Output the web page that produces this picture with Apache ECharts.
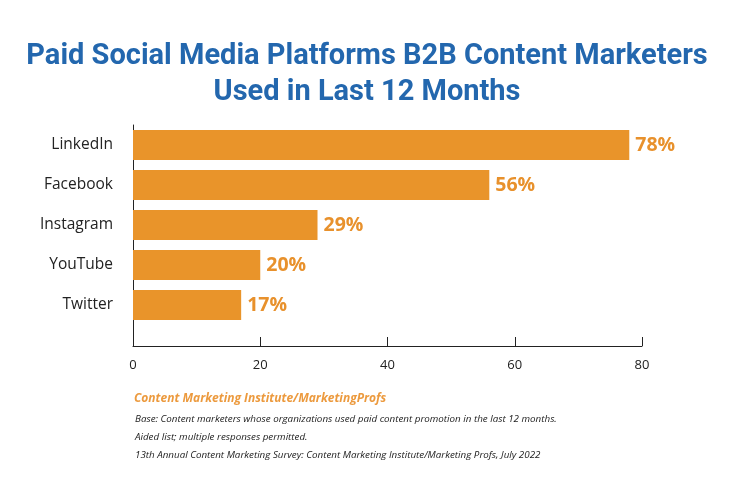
<!DOCTYPE html>
<html><head><meta charset="utf-8">
<script src="https://cdn.jsdelivr.net/npm/echarts@6/dist/echarts.min.js"></script>
<style>html,body{margin:0;padding:0;background:#fff}#c{width:734px;height:477px}</style>
</head><body><div id="c"></div>
<script>
var categories = ['LinkedIn', 'Facebook', 'Instagram', 'YouTube', 'Twitter'];
var values = [78, 56, 29, 20, 17];
var xTicks = [0, 20, 40, 60, 80];
var titleLines = ['Paid Social Media Platforms B2B Content Marketers', 'Used in Last 12 Months'];
var sourceLine = 'Content Marketing Institute/MarketingProfs';
var notes = [
  'Base: Content marketers whose organizations used paid content promotion in the last 12 months.',
  'Aided list; multiple responses permitted.',
  '13th Annual Content Marketing Survey: Content Marketing Institute/Marketing Profs, July 2022'
];

var chart = echarts.init(document.getElementById('c'));
var L = 133, R = 734 - 642;
chart.setOption({
  animation: false,
  title: [
    {text: titleLines.join('\n'), left: 'center', top: 34,
     textStyle: {fontFamily: 'Roboto', fontWeight: 'bold', fontSize: 29, color: '#2367AE', lineHeight: 36}},
    {text: sourceLine, left: 129, top: 388,
     textStyle: {fontFamily: 'Open Sans', fontStyle: 'italic', fontWeight: 'bold', fontSize: 12, color: '#EC9A3E'}},
    {text: notes.join('\n'), left: 130, top: 405,
     textStyle: {fontFamily: 'Open Sans', fontStyle: 'italic', fontWeight: 'normal', fontSize: 9.8, color: '#222', lineHeight: 18}}
  ],
  grid: [
    {left: L, right: R, top: 125, height: 200},
    {left: L, right: R, top: 125, height: 221}
  ],
  xAxis: [
    {gridIndex: 0, type: 'value', min: 0, max: 80, interval: 20, show: false},
    {gridIndex: 1, type: 'value', min: xTicks[0], max: xTicks[xTicks.length-1], interval: 20,
     axisLine: {show: true, lineStyle: {color: '#222', width: 1}},
     axisTick: {show: true, inside: true, length: 9, lineStyle: {color: '#222'}},
     splitLine: {show: false},
     axisLabel: {color: '#222', fontFamily: 'Open Sans', fontSize: 13, margin: 13}}
  ],
  yAxis: [
    {gridIndex: 0, type: 'category', data: categories, inverse: true,
     axisLine: {show: false}, axisTick: {show: false},
     axisLabel: {color: '#222', fontFamily: 'Open Sans', fontSize: 15.5, margin: 20}},
    {gridIndex: 1, type: 'value', min: 0, max: 1, axisLine: {show: true, lineStyle: {color: '#222'}},
     axisTick: {show: false}, axisLabel: {show: false}, splitLine: {show: false}}
  ],
  series: [{
    type: 'bar', xAxisIndex: 0, yAxisIndex: 0, data: values, barWidth: 30,
    itemStyle: {color: '#E9942A'},
    label: {show: true, position: 'right', distance: 6, formatter: '{c}%',
      fontFamily: 'Open Sans', fontWeight: 'bold', fontSize: 19.5, color: '#E8912C'}
  }]
});
</script></body></html>
